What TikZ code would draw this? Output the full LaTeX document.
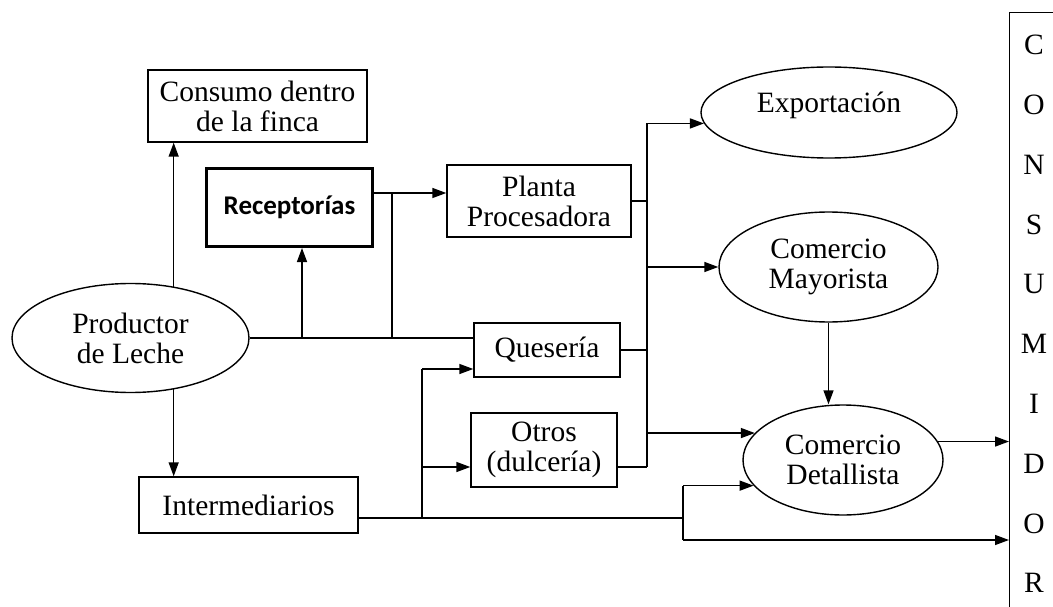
\documentclass[tikz,border=0pt]{standalone}
\usepackage{fontspec}
\setmainfont{Liberation Serif}
\newfontfamily\labelsans{Carlito}
\usetikzlibrary{arrows.meta,shapes.geometric}
\begin{document}
\begin{tikzpicture}[x=1pt,y=-1pt,
  every node/.style={font=\fontsize{29.5}{30}\selectfont, align=center, inner sep=0pt},
  box/.style={draw, rectangle, line width=1.4pt},
  oval/.style={draw, ellipse, line width=1.4pt},
  link/.style={line width=1.4pt},
  arr/.style={link, -{Triangle[length=14pt,width=10pt]}}]
\useasboundingbox (0,0) rectangle (1053,607);
\clip (0,0) rectangle (1053,607);

% boxes and ovals
\node[box, minimum width=219pt, minimum height=72pt] (consumo) at (257.5,106) {Consumo dentro\\de la finca};
\node[box, line width=3pt, minimum width=166pt, minimum height=78pt,
      font=\labelsans\bfseries\fontsize{27}{30}\selectfont] (recep) at (289.5,207.5) {Receptorías};
\node[box, minimum width=184pt, minimum height=72pt] (planta) at (539,201) {Planta\\Procesadora};
\node[oval, minimum width=256pt, minimum height=91pt, text height=21pt, text depth=21pt] (exp) at (829,112.5) {Exportación};
\node[oval, minimum width=219pt, minimum height=110pt] (may) at (828.5,267) {Comercio\\Mayorista};
\node[oval, minimum width=237pt, minimum height=109pt] (prod) at (130.5,338) {Productor\\de Leche};
\node[box, minimum width=146pt, minimum height=54pt] (ques) at (547,350) {Quesería};
\node[box, minimum width=146pt, minimum height=74pt] (otros) at (544,450) {Otros\\(dulcería)};
\node[oval, minimum width=200pt, minimum height=110pt] (det) at (843,460) {Comercio\\Detallista};
\node[box, minimum width=219pt, minimum height=56pt] (inter) at (248.5,505) {Intermediarios};
\node[box, anchor=north west, minimum width=80pt, minimum height=620pt] (consumidor) at (1009,12) {};
\node[anchor=north, font=\fontsize{29.5}{59.8}\selectfont] (consletters) at (1034,35) {C\\O\\N\\S\\U\\M\\I\\D\\O\\R};

% junction points
\coordinate (ja) at (302,338);
\coordinate (jb) at (392,338);
\coordinate (jc) at (392,193);
\coordinate (tb) at (647,467);
\coordinate (ib) at (422,518);
\coordinate (id) at (422,369);
\coordinate (ic) at (683,518);
\coordinate (ie) at (683,540);

% from the producer
\draw[arr] (prod.50) -- (prod.50 |- consumo.south);
\draw[arr] (prod.310) -- (prod.310 |- inter.north);
\draw[link] (prod.east) -- (prod.east -| ques.west);
\draw[arr] (ja) -- (ja |- recep.south);
\draw[link] (jb) -- (jc);
\draw[arr] (jc -| recep.east) -- (jc -| planta.west);

% processing trunk
\draw[link] (exp.185 -| tb) -- (tb);
\draw[arr] (exp.185 -| tb) -- (exp.185);
\draw[arr] (may.west -| tb) -- (may.west);
\draw[arr] (det.163 -| tb) -- (det.163);
\draw[link] (planta.east) -- (planta.east -| tb);
\draw[link] (ques.east) -- (ques.east -| tb);
\draw[link] (tb -| otros.east) -- (tb);

% intermediaries
\draw[link] (ib -| inter.east) -- (ic);
\draw[link] (ib) -- (id);
\draw[arr] (id) -- (id -| ques.west);
\draw[arr] (tb -| ib) -- (tb -| otros.west);
\draw[link] (det.196 -| ic) -- (ie);
\draw[arr] (det.196 -| ic) -- (det.196);
\draw[arr] (ie) -- (ie -| consumidor.west);

% retail
\draw[arr] (may.south) -- (may.south |- det.north);
\draw[arr] (det.11) -- (det.11 -| consumidor.west);
\end{tikzpicture}
\end{document}
